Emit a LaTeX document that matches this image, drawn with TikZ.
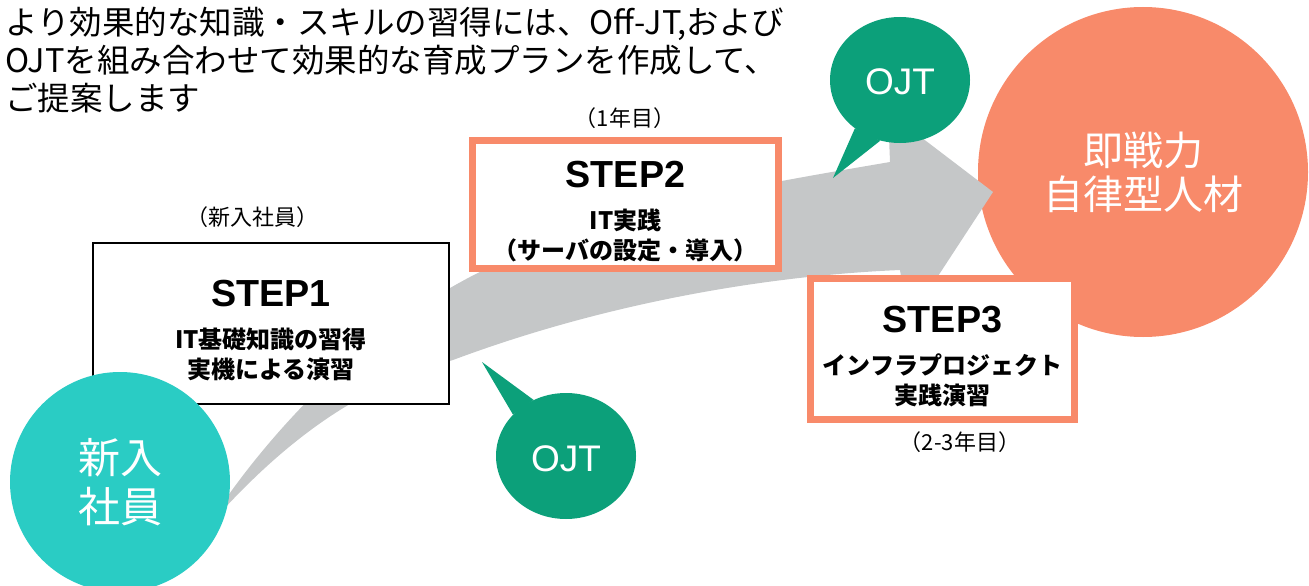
\documentclass[tikz,border=0pt]{standalone}
\usepackage{fontspec}
\setmainfont{Noto Sans CJK JP}
\newfontfamily\arialfont{Liberation Sans}
\usetikzlibrary{shapes.geometric}

\definecolor{mint}{HTML}{2ACCC4}
\definecolor{coral}{HTML}{F88A6A}
\definecolor{ojtgreen}{HTML}{0CA07A}
\definecolor{shaft}{HTML}{C5C7C8}

\newcommand\steptitle{\arialfont\bfseries\fontsize{37.7}{38}\selectfont\rule{0pt}{41pt}}
\newcommand\stepsub{\rmfamily\bfseries\fontsize{24}{30}\selectfont}

\begin{document}
\begin{tikzpicture}[x=1pt,y=-1pt,
        stepbox/.style={rectangle,draw=coral,line width=7pt,fill=white,align=center,inner sep=0pt,font=\stepsub},
        ojt/.style={ellipse,fill=ojtgreen,minimum width=140pt,minimum height=126pt,inner sep=0pt,text=white,text height=30pt,text depth=0pt,font=\arialfont\fontsize{37}{37}\selectfont},
        bigcircle/.style={circle,inner sep=0pt,align=center,text=white},
        year/.style={font=\fontsize{22}{22}\selectfont}]
        \useasboundingbox (0,0) rectangle (1309,586);
        \node [bigcircle,fill=coral,minimum size=330pt,font=\fontsize{40}{44}\selectfont] (goal) at (1143,172) {即戦力\\自律型人材};
        \coordinate (tail) at (205,530);
        \coordinate (tip) at (993,192);
        \fill [shaft] (tail) .. controls (255,450) and (350,340) .. (470,277)
            .. controls (600,210) and (750,186) .. (890,162) -- (888,112) -- (tip) -- (908,322) -- (900,270)
            .. controls (760,276) and (600,305) .. (453,360)
            .. controls (385,380) and (305,415) .. (tail) -- cycle;
        \node [stepbox,draw=black,line width=2pt,minimum width=356pt,minimum height=161pt] (step1) at (271,323.5) {{\steptitle STEP1}\\[12pt]IT基礎知識の習得\\実機による演習};
        \node [stepbox,minimum width=306pt,minimum height=128pt] (step2) at (625.5,204.5) {{\steptitle STEP2}\\[12pt]IT実践\\（サーバの設定・導入）};
        \node [stepbox,minimum width=264pt,minimum height=141pt] (step3) at (942.5,349) {{\steptitle STEP3}\\[12pt]インフラプロジェクト\\実践演習};
        \node [bigcircle,fill=mint,minimum size=220pt,font=\fontsize{42}{49}\selectfont] (newbie) at (120,482) {新入\\社員};
        \coordinate (tipA) at (482,362);
        \node [ojt] (ojtA) at (566,456) {OJT};
        \fill [ojtgreen] (ojtA.120) -- (tipA) -- (ojtA.142) -- cycle;
        \coordinate (tipB) at (833,178);
        \node [ojt] (ojtB) at (900,80) {OJT};
        \fill [ojtgreen] (ojtB.227) -- (tipB) -- (ojtB.252) -- cycle;
        \node [year] (yr1) at (252,217) {（新入社員）};
        \node [year] (yr2) at (625,118) {（1年目）};
        \node [year] (yr3) at (960,442) {（2-3年目）};
        \node [anchor=north west,inner sep=0pt,align=left,font=\fontsize{32.5}{38}\selectfont] (intro) at (5,7) {より効果的な知識・スキルの習得には、Off-JT,および\\OJTを組み合わせて効果的な育成プランを作成して、\\ご提案します};
    \end{tikzpicture}
\end{document}
